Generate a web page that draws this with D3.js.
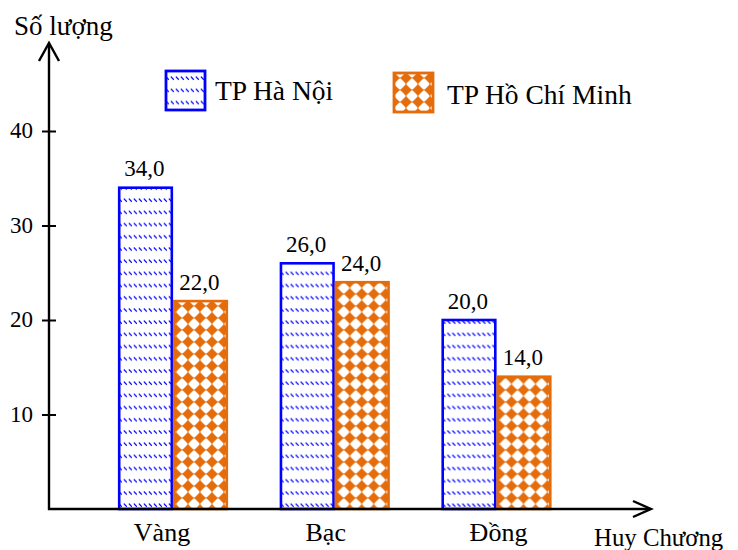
<!DOCTYPE html>
<html>
<head>
<meta charset="utf-8">
<script src="https://cdn.jsdelivr.net/npm/d3@7"></script>
<style>
  html, body { margin: 0; padding: 0; background: #fff; }
  svg { display: block; }
  text { font-family: "Liberation Serif", "Times New Roman", serif; fill: #000; }
</style>
</head>
<body>
<svg id="chart" width="738" height="550"></svg>
<script>
// Huy chương theo loại, hai thành phố
const categories = ["Vàng", "Bạc", "Đồng"];
const seriesNames = ["TP Hà Nội", "TP Hồ Chí Minh"];
const haNoi = [34, 26, 20];
const hoChiMinh = [22, 24, 14];
const yTicks = [10, 20, 30, 40];
const yTitle = "Số lượng";
const xTitle = "Huy Chương";

const svg = d3.select("#chart");
const blue = "#0000ff";
const orange = "#e46c0a";

const axisX = 49, axisY = 509;

const x0 = d3.scaleBand().domain(categories).range([49, 620.5])
  .paddingInner(0.32).paddingOuter(0.4266);
const x1 = d3.scaleBand().domain(seriesNames).range([0, x0.bandwidth()]);
const y = d3.scaleLinear().domain([0, 34]).range([axisY, 187.7]);

// Hoa văn tô cột
const defs = svg.append("defs");
const pBlue = defs.append("pattern").attr("id", "pBlue")
  .attr("patternUnits", "userSpaceOnUse").attr("width", 5).attr("height", 12.2)
  .attr("x", 0).attr("y", 3);
pBlue.append("rect").attr("width", 5).attr("height", 12.2).attr("fill", "#fff");
pBlue.append("line").attr("x1", 0.8).attr("y1", 0.5).attr("x2", 3.8).attr("y2", 3.5)
  .attr("stroke", blue).attr("stroke-width", 1.1);

const pOrange = defs.append("pattern").attr("id", "pOrange")
  .attr("patternUnits", "userSpaceOnUse").attr("width", 12).attr("height", 12)
  .attr("x", 4).attr("y", 0);
pOrange.append("rect").attr("width", 12).attr("height", 12).attr("fill", "#fff");
pOrange.append("path").attr("d", "M6,0.6 L11.4,6 L6,11.4 L0.6,6 Z").attr("fill", orange)
  .attr("stroke", orange).attr("stroke-width", 0.8).attr("stroke-linejoin", "round");
// đường nối mảnh giữa các hình thoi
pOrange.append("path").attr("d", "M0,6 H12 M6,0 V12").attr("stroke", orange).attr("stroke-width", 0.7);

const fills = { "TP Hà Nội": "url(#pBlue)", "TP Hồ Chí Minh": "url(#pOrange)" };
const strokes = { "TP Hà Nội": blue, "TP Hồ Chí Minh": orange };

const rows = categories.map((c, i) => ({
  cat: c,
  vals: [{ s: seriesNames[0], v: haNoi[i] }, { s: seriesNames[1], v: hoChiMinh[i] }]
}));

const fmt = d3.formatLocale({ decimal: ",", thousands: ".", grouping: [3], currency: ["", ""] }).format(".1f");

// Cột
const g = svg.append("g");
const groups = g.selectAll("g.grp").data(rows).join("g")
  .attr("transform", d => `translate(${x0(d.cat)},0)`);
groups.selectAll("rect").data(d => d.vals).join("rect")
  .attr("x", d => x1(d.s) + 1.2)
  .attr("y", d => y(d.v))
  .attr("width", x1.bandwidth() - 2.4)
  .attr("height", d => axisY - y(d.v))
  .attr("fill", d => fills[d.s])
  .attr("stroke", d => strokes[d.s])
  .attr("stroke-width", 2.6);
groups.selectAll("text").data(d => d.vals).join("text")
  .attr("x", d => x1(d.s) + x1.bandwidth() / 2 - 1)
  .attr("y", d => y(d.v) - 11.5)
  .attr("text-anchor", "middle")
  .attr("font-size", 23)
  .text(d => fmt(d.v));

// Trục tung
const yAxis = svg.append("g").attr("transform", `translate(${axisX},0)`)
  .call(d3.axisLeft(y).tickValues(yTicks).tickSize(7).tickPadding(10).tickFormat(d3.format("d")));
yAxis.select(".domain").remove();
yAxis.selectAll(".tick line").attr("x1", -7).attr("x2", 7).attr("stroke", "#000").attr("stroke-width", 2);
yAxis.selectAll(".tick text").attr("font-size", 23).attr("font-family", "Liberation Serif")
  .attr("fill", "#000").attr("dy", "0.3em").attr("x", -16);

svg.append("line").attr("x1", axisX).attr("y1", axisY + 1).attr("x2", axisX).attr("y2", 44)
  .attr("stroke", "#000").attr("stroke-width", 2.4);
svg.append("path").attr("d", `M${axisX - 10},61 L${axisX},43 L${axisX + 10},61`)
  .attr("fill", "none").attr("stroke", "#000").attr("stroke-width", 2.4);

// Trục hoành
svg.append("line").attr("x1", axisX - 1).attr("y1", axisY).attr("x2", 650).attr("y2", axisY)
  .attr("stroke", "#000").attr("stroke-width", 2.4);
svg.append("path").attr("d", `M633,${axisY - 8} L651,${axisY} L633,${axisY + 8}`)
  .attr("fill", "none").attr("stroke", "#000").attr("stroke-width", 2.4);

// Nhãn danh mục
const catOffset = { "Vàng": -11, "Bạc": -9, "Đồng": 2 };
svg.selectAll("text.cat").data(categories).join("text").attr("class", "cat")
  .attr("x", d => x0(d) + x0.bandwidth() / 2 + catOffset[d])
  .attr("y", 541)
  .attr("text-anchor", "middle")
  .attr("font-size", 26)
  .text(d => d);

svg.append("text").attr("x", 14).attr("y", 35).attr("font-size", 27).text(yTitle);
svg.append("text").attr("x", 594).attr("y", 546).attr("font-size", 24.8).text(xTitle);

// Chú thích
const legend = [
  { s: seriesNames[0], bx: 166, by: 71, tx: 215, ty: 100 },
  { s: seriesNames[1], bx: 394, by: 73, tx: 447, ty: 104 }
];
legend.forEach(l => {
  svg.append("rect").attr("x", l.bx).attr("y", l.by).attr("width", 39).attr("height", 39)
    .attr("fill", fills[l.s]).attr("stroke", strokes[l.s]).attr("stroke-width", 2.8);
  svg.append("text").attr("x", l.tx).attr("y", l.ty).attr("font-size", 27.5).text(l.s);
});
</script>
</body>
</html>
